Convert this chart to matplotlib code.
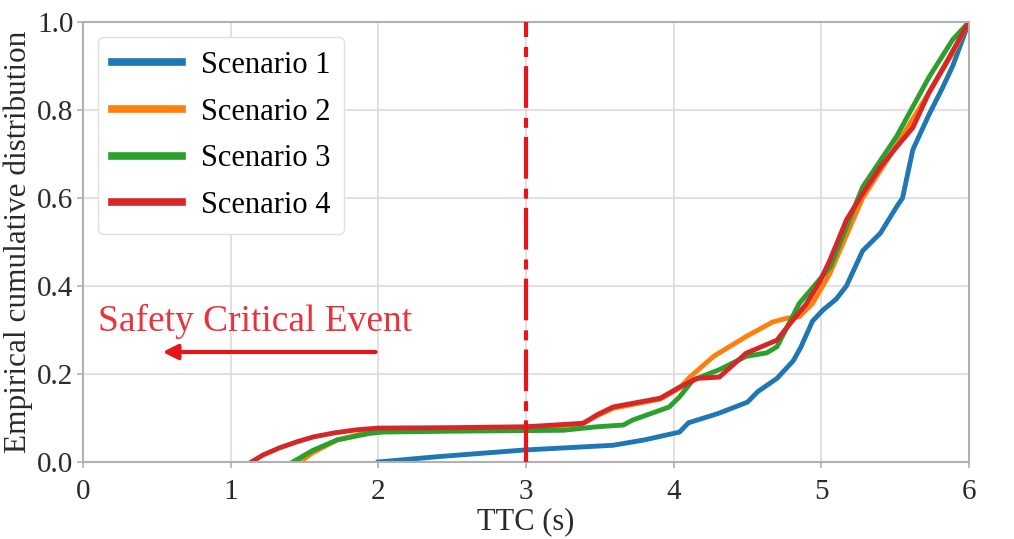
import numpy as np
import matplotlib
matplotlib.use('Agg')
import matplotlib.pyplot as plt

# Empirical CDF of TTC per scenario (knots of each curve)
s1_x = [2.00, 2.40, 2.98, 3.37, 3.59, 3.80, 4.04, 4.10, 4.30, 4.50, 4.57, 4.70, 4.81, 4.86, 4.94,
        5.01, 5.10, 5.17, 5.28, 5.40, 5.51, 5.55, 5.62, 5.73, 5.82, 5.89, 6.00]
s1_y = [0.000, 0.012, 0.027, 0.034, 0.038, 0.050, 0.068, 0.089, 0.110, 0.136, 0.160, 0.190, 0.230,
        0.260, 0.320, 0.345, 0.370, 0.400, 0.480, 0.520, 0.580, 0.600, 0.710, 0.790, 0.850, 0.900, 1.000]

s2_x = [1.47, 1.55, 1.72, 1.94, 2.05, 2.50, 3.00, 3.37, 3.50, 3.59, 3.91, 4.04, 4.11, 4.27, 4.49,
        4.67, 4.77, 4.85, 4.94, 5.01, 5.06, 5.28, 5.51, 5.73, 5.89, 6.00]
s2_y = [0.000, 0.020, 0.050, 0.068, 0.074, 0.076, 0.077, 0.086, 0.108, 0.122, 0.143, 0.168, 0.193,
        0.240, 0.285, 0.318, 0.327, 0.330, 0.360, 0.400, 0.430, 0.600, 0.720, 0.840, 0.930, 1.000]

s3_x = [1.42, 1.56, 1.72, 1.94, 2.03, 2.50, 3.25, 3.48, 3.66, 3.72, 3.97, 4.04, 4.13, 4.31, 4.49,
        4.63, 4.70, 4.85, 5.06, 5.28, 5.51, 5.73, 5.89, 6.00]
s3_y = [0.000, 0.027, 0.050, 0.065, 0.068, 0.070, 0.072, 0.080, 0.084, 0.095, 0.125, 0.148, 0.186,
        0.210, 0.240, 0.248, 0.262, 0.360, 0.443, 0.625, 0.740, 0.875, 0.960, 1.000]

s4_x = [1.14, 1.22, 1.33, 1.45, 1.56, 1.70, 1.85, 2.00, 2.50, 3.00, 3.39, 3.48, 3.59, 3.91, 4.04,
        4.16, 4.31, 4.49, 4.70, 4.77, 4.90, 4.99, 5.06, 5.17, 5.28, 5.40, 5.51, 5.62, 5.73, 5.85, 6.00]
s4_y = [0.000, 0.016, 0.032, 0.046, 0.057, 0.066, 0.073, 0.077, 0.078, 0.080, 0.088, 0.107, 0.125,
        0.145, 0.170, 0.190, 0.193, 0.247, 0.277, 0.307, 0.360, 0.410, 0.460, 0.550, 0.610, 0.670,
        0.716, 0.760, 0.840, 0.910, 1.000]

labels = ['Scenario 1', 'Scenario 2', 'Scenario 3', 'Scenario 4']
colors = ['#1f77b4', '#ff7f0e', '#2ca02c', '#d62728']

plt.rcParams['font.family'] = ['Liberation Serif', 'DejaVu Serif']
plt.rcParams['font.size'] = 21

fig = plt.figure(figsize=(10.14, 5.39), dpi=100)
ax = fig.add_axes([0.0819, 0.1429, 0.8737, 0.8163])

for xs, ys, lab, c in zip([s1_x, s2_x, s3_x, s4_x], [s1_y, s2_y, s3_y, s4_y], labels, colors):
    ax.plot(xs, ys, color=c, lw=3.5, label=lab)

# threshold line at TTC = 3 s
ax.axvline(3, color='#e8141c', lw=3, linestyle=(0, (10, 2.2, 2.4, 2.4)), zorder=5)

ax.annotate('', xy=(0.52, 0.25), xytext=(2.0, 0.25),
            arrowprops=dict(arrowstyle='-|>', color='#e8141c', lw=3, mutation_scale=22))
ax.text(0.1, 0.32, 'Safety Critical Event', color='#e8323c', fontsize=27, va='center')

ax.set_xlim(0, 6)
ax.set_ylim(0, 1)
ax.set_xticks(np.arange(0, 7, 1))
ax.set_yticks(np.arange(0, 1.01, 0.2))
ax.set_yticklabels(['0.0', '0.2', '0.4', '0.6', '0.8', '1.0'])
ax.grid(True, color='#dcdcdc', lw=1.2)
ax.set_axisbelow(True)
for sp in ax.spines.values():
    sp.set_color('#b0b0b0')
    sp.set_linewidth(1.5)
ax.tick_params(colors='#b0b0b0', labelcolor='#2a2a2a', length=4, width=1.2, labelsize=21, pad=3)
ax.tick_params(axis='x', pad=8)
ax.set_xlabel('TTC (s)', color='#2a2a2a', labelpad=2, fontsize=22)
ax.set_ylabel('Empirical cumulative distribution', color='#2a2a2a', labelpad=3, fontsize=22.5)

leg = ax.legend(loc='upper left', handlelength=2.3, borderpad=0.45, labelspacing=0.58,
                handletextpad=0.6, framealpha=1, edgecolor='#e0e0e0', fontsize=22)
for line in leg.get_lines():
    line.set_linewidth(5.5)

fig.savefig('out.png', dpi=100)
